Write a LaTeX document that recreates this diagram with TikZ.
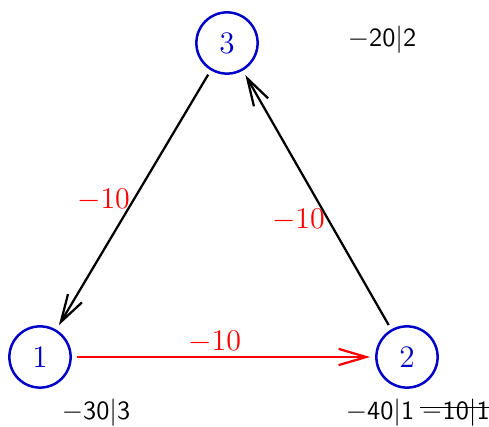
\documentclass[tikz,border=0pt]{standalone}
\usepackage{amsmath}
\usetikzlibrary{arrows.meta}
\definecolor{nodeblue}{rgb}{0,0,0.78}
\begin{document}
\begin{tikzpicture}[x=0.4pt,y=0.4pt,
  vertex/.style={circle,draw=nodeblue,line width=1pt,text=nodeblue,minimum size=24.5pt,inner sep=0pt,outer sep=2.5pt,font=\fontsize{12.5}{14}\selectfont},
  arr/.style={line width=0.9pt,-{Straight Barb[length=11pt,width=6.5pt,line width=0.9pt]}},
  wt/.style={red,inner sep=1pt,font=\fontsize{11.5}{13}\selectfont},
  tag/.style={font=\fontsize{10.5}{12}\sffamily,inner sep=0.5pt}]
\useasboundingbox (0,0) rectangle (489,427);

\node[vertex] (n1) at (40,70) {1};
\node[vertex] (n2) at (407,70) {2};
\node[vertex] (n3) at (227,384) {3};

\draw[arr] (n3) -- (n1) node[wt,midway,left] {$-10$};
\draw[arr] (n2) -- (n3) node[wt,pos=0.42,left] {$-10$};
\draw[arr,red] (n1) -- (n2) node[wt,pos=0.47,above] {$-10$};

\node[tag] (t3) at (382,387) {$-$20$|$2};
\node[tag] (t1) at (96,14) {$-$30$|$3};
\node[tag] (t2) at (380,14) {$-$40$|$1};
\node[tag,anchor=base west] (t2x) at ([xshift=1.5pt]t2.base east) {$-$10$|$1};
% struck out
\draw[line width=0.5pt] ([yshift=5pt]t2x.base west) -- ([yshift=5pt]t2x.base east);
\end{tikzpicture}
\end{document}
